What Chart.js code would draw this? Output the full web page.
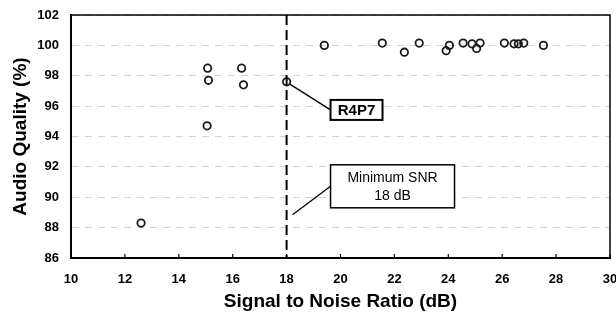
<!DOCTYPE html>
<html lang="en">
<head>
<meta charset="UTF-8">
<title>Audio Quality vs SNR</title>
<script src="https://cdn.jsdelivr.net/npm/chart.js"></script>
<style>
  html, body { margin: 0; padding: 0; background: #fff; }
  #wrap { width: 616px; height: 314px; }
</style>
</head>
<body>
<div id="wrap"><canvas id="snrChart"></canvas></div>
<script>
// measured points: SNR (dB) and audio quality (%)
const snrValues = [12.6, 15.07, 15.1, 15.05, 16.33, 16.4, 18.0, 19.4, 21.55, 22.37, 22.92,
                   23.92, 24.04, 24.55, 24.88, 25.05, 25.18, 26.08, 26.44, 26.6, 26.8, 27.53];
const qualityValues = [88.3, 98.5, 97.7, 94.7, 98.5, 97.4, 97.6, 100.0, 100.15, 99.55, 100.15,
                       99.65, 100.0, 100.15, 100.1, 99.8, 100.15, 100.15, 100.1, 100.1, 100.15, 100.0];
const xTicks = [10, 12, 14, 16, 18, 20, 22, 24, 26, 28, 30];
const yTicks = [86, 88, 90, 92, 94, 96, 98, 100, 102];
const minSnr = 18;

// callouts: text lines, where the leader starts, where the box sits (left-middle), in data units
const noteTexts = [['R4P7'], ['Minimum SNR', '18 dB']];
const noteFrom = [[18.12, 97.45], [18.22, 88.85]];
const noteAt = [[19.63, 95.75], [19.63, 90.72]];

const FONT = '"Liberation Sans", Arial, sans-serif';
const noteStyle = [
  { w: 52, h: 20, font: 'bold 15px ' + FONT, lw: 2 },
  { w: 124, h: 43, font: '14px ' + FONT, lw: 1.5 }
];

const points = snrValues.map((v, i) => ({ x: v, y: qualityValues[i] }));

const extrasPlugin = {
  id: 'extras',
  afterDatasetsDraw(chart) {
    const { ctx, chartArea: a, scales: { x, y } } = chart;
    ctx.save();
    ctx.strokeStyle = '#000';

    // frame top / right
    ctx.lineWidth = 1.5;
    ctx.beginPath();
    ctx.moveTo(a.left, a.top);
    ctx.lineTo(a.right, a.top);
    ctx.lineTo(a.right, a.bottom);
    ctx.stroke();

    // little inward ticks on the x axis
    ctx.lineWidth = 1.2;
    xTicks.forEach(v => {
      const px = x.getPixelForValue(v);
      ctx.beginPath();
      ctx.moveTo(px, a.bottom);
      ctx.lineTo(px, a.bottom - 4);
      ctx.stroke();
    });

    // minimum SNR line
    const xm = x.getPixelForValue(minSnr);
    ctx.lineWidth = 2;
    ctx.setLineDash([10, 5]);
    ctx.beginPath();
    ctx.moveTo(xm, a.top);
    ctx.lineTo(xm, a.bottom);
    ctx.stroke();
    ctx.setLineDash([]);

    // callouts
    noteTexts.forEach((lines, i) => {
      const st = noteStyle[i];
      const fx = x.getPixelForValue(noteFrom[i][0]);
      const fy = y.getPixelForValue(noteFrom[i][1]);
      const bx = x.getPixelForValue(noteAt[i][0]);
      const by = y.getPixelForValue(noteAt[i][1]);

      ctx.lineWidth = 1.3;
      ctx.beginPath();
      ctx.moveTo(fx, fy);
      ctx.lineTo(bx, by);
      ctx.stroke();

      ctx.fillStyle = '#fff';
      ctx.fillRect(bx, by - st.h / 2, st.w, st.h);
      ctx.lineWidth = st.lw;
      ctx.strokeRect(bx, by - st.h / 2, st.w, st.h);

      ctx.fillStyle = '#000';
      ctx.font = st.font;
      ctx.textAlign = 'center';
      ctx.textBaseline = 'middle';
      const lh = 18;
      lines.forEach((t, k) => {
        ctx.fillText(t, bx + st.w / 2, by + (k - (lines.length - 1) / 2) * lh + 1);
      });
    });
    ctx.restore();
  }
};

new Chart(document.getElementById('snrChart'), {
  type: 'scatter',
  data: {
    datasets: [{
      data: points,
      pointStyle: 'circle',
      pointRadius: 3.7,
      pointBorderWidth: 1.8,
      pointBorderColor: '#1a1a1a',
      pointBackgroundColor: 'rgba(0,0,0,0)'
    }]
  },
  options: {
    responsive: true,
    maintainAspectRatio: false,
    animation: false,
    layout: { padding: { top: 15, right: 6, left: 0, bottom: 0 } },
    plugins: { legend: { display: false }, tooltip: { enabled: false } },
    scales: {
      x: {
        type: 'linear',
        min: 10, max: 30,
        afterBuildTicks: s => { s.ticks = xTicks.map(v => ({ value: v })); },
        ticks: { color: '#000', font: { size: 13, weight: 'bold', family: FONT }, padding: 14, maxRotation: 0, autoSkip: false },
        grid: { display: false, drawTicks: false },
        border: { color: '#000', width: 2 },
        title: { display: true, text: 'Signal to Noise Ratio (dB)', color: '#000',
                 font: { size: 19, weight: 'bold', family: FONT }, padding: { top: 0, bottom: 1 } },
        afterFit: s => { s.height = 56; s.paddingLeft = 0; s.paddingRight = 0; }
      },
      y: {
        type: 'linear',
        min: 86, max: 102,
        afterBuildTicks: s => { s.ticks = yTicks.map(v => ({ value: v })); },
        ticks: { color: '#000', font: { size: 13, weight: 'bold', family: FONT }, padding: 12 },
        grid: { color: '#d2d2d2', lineWidth: 1, drawTicks: false },
        border: { color: '#000', width: 2, dash: [7, 6] },
        title: { display: true, text: 'Audio Quality (%)', color: '#000',
                 font: { size: 19, weight: 'bold', family: FONT }, padding: { top: 9, bottom: 0 } },
        afterFit: s => { s.width = 71; s.paddingTop = 0; s.paddingBottom = 0; }
      }
    }
  },
  plugins: [extrasPlugin]
});
</script>
</body>
</html>
